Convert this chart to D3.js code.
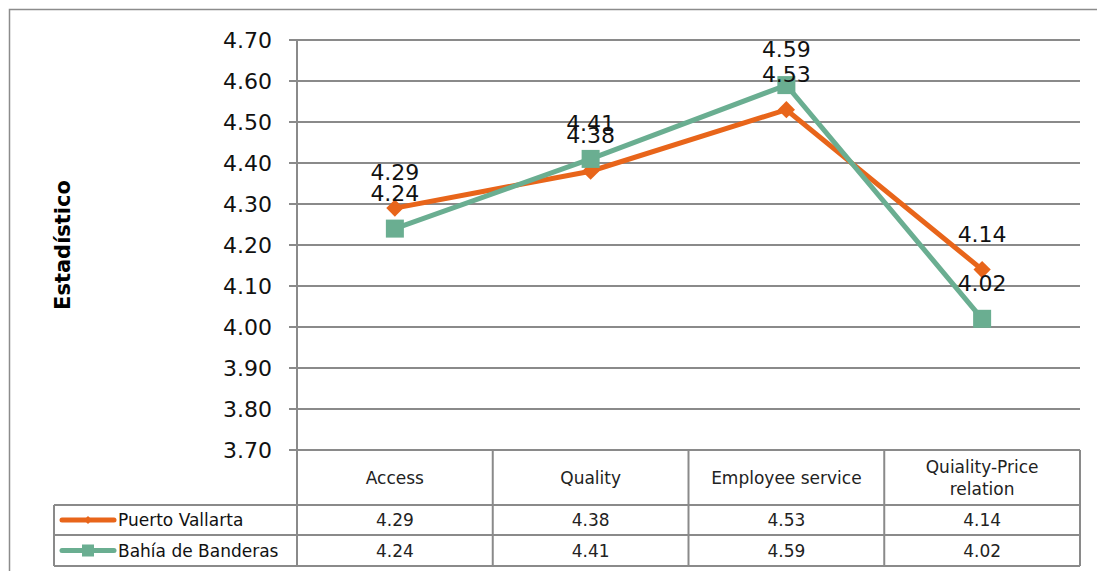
<!DOCTYPE html>
<html><head><meta charset="utf-8">
<script src="https://cdn.jsdelivr.net/npm/d3@7"></script>
<style>body{margin:0;background:#fff;} svg{display:block;font-family:"DejaVu Sans",sans-serif;}</style>
</head><body>
<script>
const categories = ["Access", "Quality", "Employee service", "Quiality-Price relation"];
const categoryLines = [["Access"], ["Quality"], ["Employee service"], ["Quiality-Price", "relation"]];
const seriesNames = ["Puerto Vallarta", "Bahía de Banderas"];
const puertoVallarta = [4.29, 4.38, 4.53, 4.14];
const bahiaBanderas = [4.24, 4.41, 4.59, 4.02];
const yTicks = [3.70, 3.80, 3.90, 4.00, 4.10, 4.20, 4.30, 4.40, 4.50, 4.60, 4.70];
const yTitle = "Estadístico";

const series = [
  {name: seriesNames[0], values: puertoVallarta, color: "#E8651A", marker: "diamond"},
  {name: seriesNames[1], values: bahiaBanderas, color: "#6AAE91", marker: "square"}
];

const W = 1097, H = 571;
const pLeft = 297, pRight = 1080, pTop = 40, pBottom = 450;
const grid = "#8a8a8a";

const svg = d3.select("body").append("svg").attr("width", W).attr("height", H);

svg.append("rect").attr("x", 9.5).attr("y", 9.5).attr("width", 1100).attr("height", 600)
  .attr("fill", "none").attr("stroke", "#8c8c8c").attr("stroke-width", 1.5);

const y = d3.scaleLinear().domain([3.7, 4.7]).range([pBottom, pTop]);
const x = d3.scaleBand().domain(categories).range([pLeft, pRight]);

svg.append("g").selectAll("line").data(yTicks).join("line")
  .attr("x1", pLeft - 8).attr("x2", pRight)
  .attr("y1", d => y(d)).attr("y2", d => y(d))
  .attr("stroke", grid).attr("stroke-width", 2);

svg.append("line").attr("x1", pLeft).attr("x2", pLeft).attr("y1", pTop).attr("y2", pBottom)
  .attr("stroke", grid).attr("stroke-width", 2);

svg.append("g").selectAll("text").data(yTicks).join("text")
  .attr("x", pLeft - 25).attr("y", d => y(d)).attr("dy", "0.36em")
  .attr("text-anchor", "end").attr("font-size", 22).attr("fill", "#111")
  .text(d => d3.format(".2f")(d));

svg.append("text").attr("transform", `translate(70,245) rotate(-90)`)
  .attr("text-anchor", "middle").attr("font-size", 21).attr("font-weight", "bold")
  .attr("fill", "#000").text(yTitle);

const line = d3.line().x((d, i) => x(categories[i]) + x.bandwidth() / 2).y(d => y(d));
series.forEach(s => {
  svg.append("path").datum(s.values).attr("d", line).attr("fill", "none")
    .attr("stroke", s.color).attr("stroke-width", 5).attr("stroke-linejoin", "miter");
});
series.forEach(s => {
  const g = svg.append("g");
  s.values.forEach((v, i) => {
    const cx = x(categories[i]) + x.bandwidth() / 2, cy = y(v);
    if (s.marker === "diamond") {
      g.append("path").attr("d", d3.symbol(d3.symbolDiamond2, 190)())
        .attr("transform", `translate(${cx},${cy})`).attr("fill", s.color);
    } else {
      g.append("rect").attr("x", cx - 9).attr("y", cy - 9).attr("width", 18).attr("height", 18)
        .attr("fill", s.color);
    }
  });
});
series.forEach(s => {
  svg.append("g").selectAll("text").data(s.values).join("text")
    .attr("x", (d, i) => x(categories[i]) + x.bandwidth() / 2)
    .attr("y", d => y(d) - 28)
    .attr("text-anchor", "middle").attr("font-size", 22).attr("fill", "#111")
    .text(d => d3.format(".2f")(d));
});

const tb = svg.append("g").attr("stroke", grid).attr("stroke-width", 2);
const rowH = [pBottom, 505, 535, 566];
const tableLeft = 54;
tb.append("line").attr("x1", pLeft).attr("x2", pRight).attr("y1", rowH[0]).attr("y2", rowH[0]);
[1, 2, 3].forEach(r => tb.append("line").attr("x1", tableLeft).attr("x2", pRight).attr("y1", rowH[r]).attr("y2", rowH[r]));
categories.forEach(c => tb.append("line").attr("x1", x(c)).attr("x2", x(c)).attr("y1", rowH[0]).attr("y2", rowH[3]));
tb.append("line").attr("x1", pRight).attr("x2", pRight).attr("y1", rowH[0]).attr("y2", rowH[3]);
tb.append("line").attr("x1", tableLeft).attr("x2", tableLeft).attr("y1", rowH[1]).attr("y2", rowH[3]);

categoryLines.forEach((lines, i) => {
  const cx = x(categories[i]) + x.bandwidth() / 2;
  const cy = (rowH[0] + rowH[1]) / 2;
  const t = svg.append("text").attr("text-anchor", "middle").attr("font-size", 17).attr("fill", "#222");
  lines.forEach((l, j) => {
    t.append("tspan").attr("x", cx).attr("y", cy + (j - (lines.length - 1) / 2) * 22).attr("dy", "0.36em").text(l);
  });
});
series.forEach((s, r) => {
  const cy = (rowH[r + 1] + rowH[r + 2]) / 2;
  s.values.forEach((v, i) => {
    svg.append("text").attr("x", x(categories[i]) + x.bandwidth() / 2).attr("y", cy).attr("dy", "0.36em")
      .attr("text-anchor", "middle").attr("font-size", 17).attr("fill", "#222").text(d3.format(".2f")(v));
  });
  svg.append("line").attr("x1", 62).attr("x2", 114).attr("y1", cy).attr("y2", cy)
    .attr("stroke", s.color).attr("stroke-width", 5).attr("stroke-linecap", "round");
  if (s.marker === "diamond") {
    svg.append("path").attr("d", d3.symbol(d3.symbolDiamond2, 40)()).attr("transform", `translate(88,${cy})`).attr("fill", s.color);
  } else {
    svg.append("rect").attr("x", 82).attr("y", cy - 6).attr("width", 12).attr("height", 12).attr("fill", s.color);
  }
  svg.append("text").attr("x", 118).attr("y", cy).attr("dy", "0.36em").attr("font-size", 17)
    .attr("fill", "#111").text(s.name);
});
</script>
</body></html>
